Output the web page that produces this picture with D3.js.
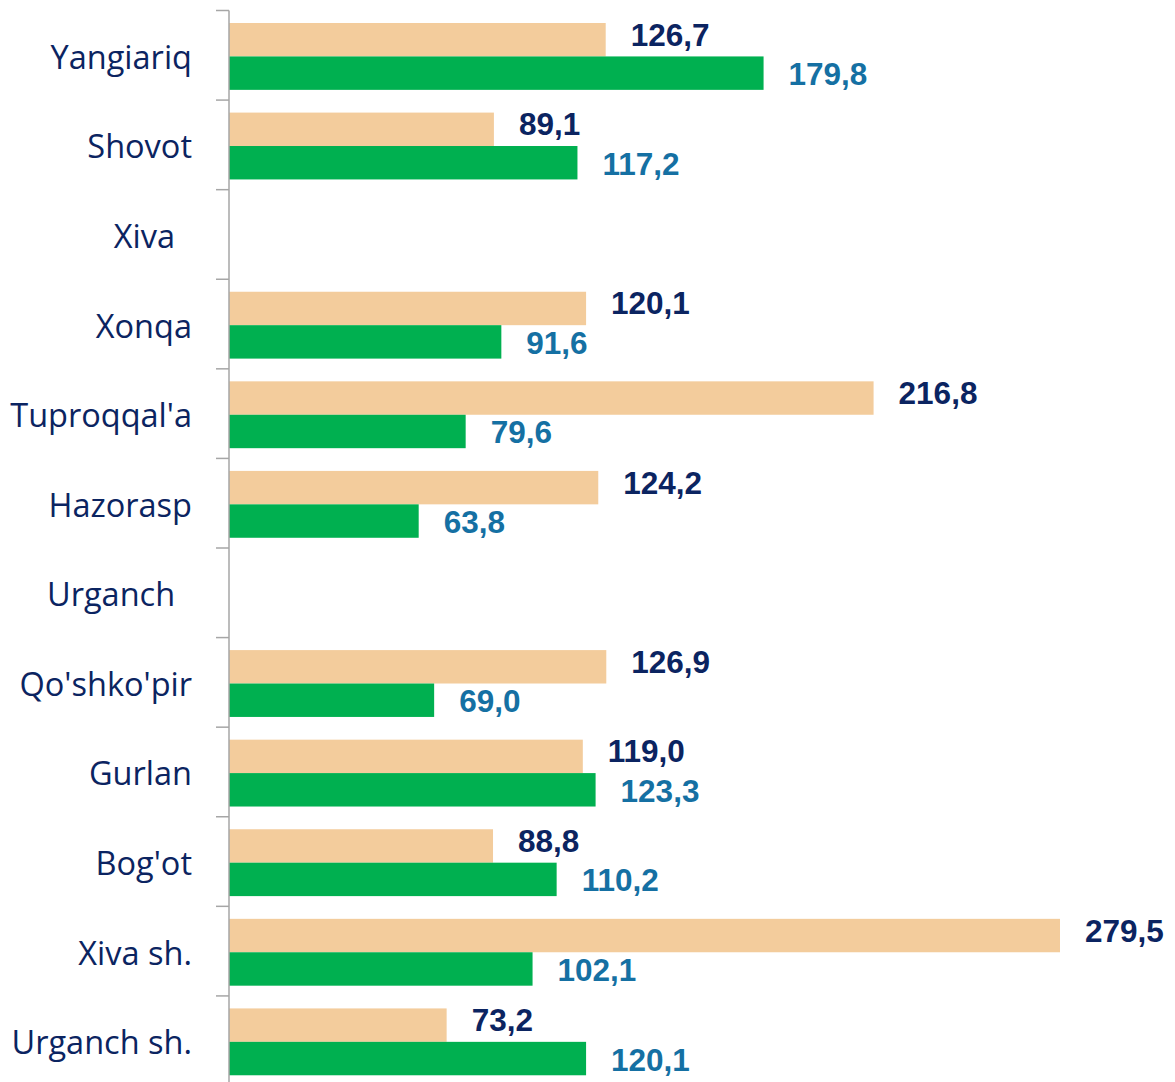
<!DOCTYPE html>
<html>
<head>
<meta charset="utf-8">
<script src="https://cdn.jsdelivr.net/npm/d3@7"></script>
<style>
  html, body { margin: 0; padding: 0; background: #fff; }
  svg { display: block; }
  .cat { white-space: pre; }
</style>
</head>
<body>
<div id="chart"></div>
<script>
// districts, top to bottom (trailing spaces kept as in the source labels)
const categories = [
  "Yangiariq", "Shovot", "Xiva  ", "Xonqa", "Tuproqqal'a", "Hazorasp",
  "Urganch  ", "Qo'shko'pir", "Gurlan", "Bog'ot", "Xiva sh.", "Urganch sh."
];
// first series (tan) and second series (green); null = no bar
const seriesA = [126.7, 89.1, null, 120.1, 216.8, 124.2, null, 126.9, 119.0, 88.8, 279.5, 73.2];
const seriesB = [179.8, 117.2, null, 91.6, 79.6, 63.8, null, 69.0, 123.3, 110.2, 102.1, 120.1];

const W = 1175, H = 1082;
const axisX = 229;

const svg = d3.select('#chart').append('svg')
  .attr('width', W).attr('height', H);

const x = d3.scaleLinear()
  .domain([0, 279.5])
  .range([axisX, 1060]);

const y = d3.scaleBand()
  .domain(categories)
  .range([10.5, 1085.5])
  .paddingInner(0).paddingOuter(0);

const sub = d3.scaleBand()
  .domain(['a', 'b'])
  .range([0, y.bandwidth()])
  .paddingInner(0).paddingOuter(0.34).align(0.55);

const fmt = v => v.toFixed(1).replace('.', ',');

const rows = categories.map((c, i) => ({ cat: c, a: seriesA[i], b: seriesB[i] }));

const series = [
  { key: 'a', fill: '#F3CC9C', label: '#0B2461', dy: -5 },
  { key: 'b', fill: '#00B050', label: '#1570A3', dy: 1 }
];

series.forEach(s => {
  const data = rows.filter(d => d[s.key] != null);
  svg.append('g').selectAll('rect')
    .data(data)
    .enter().append('rect')
    .attr('x', x(0))
    .attr('y', d => y(d.cat) + sub(s.key))
    .attr('width', d => x(d[s.key]) - x(0))
    .attr('height', sub.bandwidth())
    .style('fill', s.fill);

  svg.append('g').selectAll('text')
    .data(data)
    .enter().append('text')
    .attr('x', d => x(d[s.key]) + 25)
    .attr('y', d => y(d.cat) + sub(s.key) + sub.bandwidth() / 2 + s.dy)
    .attr('dominant-baseline', 'central')
    .style('font-family', '"Liberation Sans", Arial, sans-serif')
    .style('font-weight', 'bold')
    .style('font-size', '31.5px')
    .style('fill', s.label)
    .text(d => fmt(d[s.key]));
});

// category axis
const axis = svg.append('g').attr('transform', `translate(${axisX},0)`);
axis.append('line')
  .attr('x1', 0).attr('x2', 0)
  .attr('y1', 10.5).attr('y2', H)
  .style('stroke', '#A6A6A6').style('stroke-width', 1.5);

const ticks = categories.map(c => y(c));
axis.selectAll('.tick')
  .data(ticks)
  .enter().append('line')
  .attr('x1', -13).attr('x2', 0)
  .attr('y1', d => d).attr('y2', d => d)
  .style('stroke', '#A6A6A6').style('stroke-width', 1.5);

svg.append('g').selectAll('text')
  .data(categories)
  .enter().append('text')
  .attr('class', 'cat')
  .attr('x', 192)
  .attr('y', d => y(d) + y.bandwidth() / 2 + 1)
  .attr('text-anchor', 'end')
  .attr('dominant-baseline', 'central')
  .style('font-family', '"Open Sans", "Noto Sans", sans-serif')
  .style('font-size', '32.5px')
  .style('fill', '#0B2461')
  .text(d => d);
</script>
</body>
</html>
